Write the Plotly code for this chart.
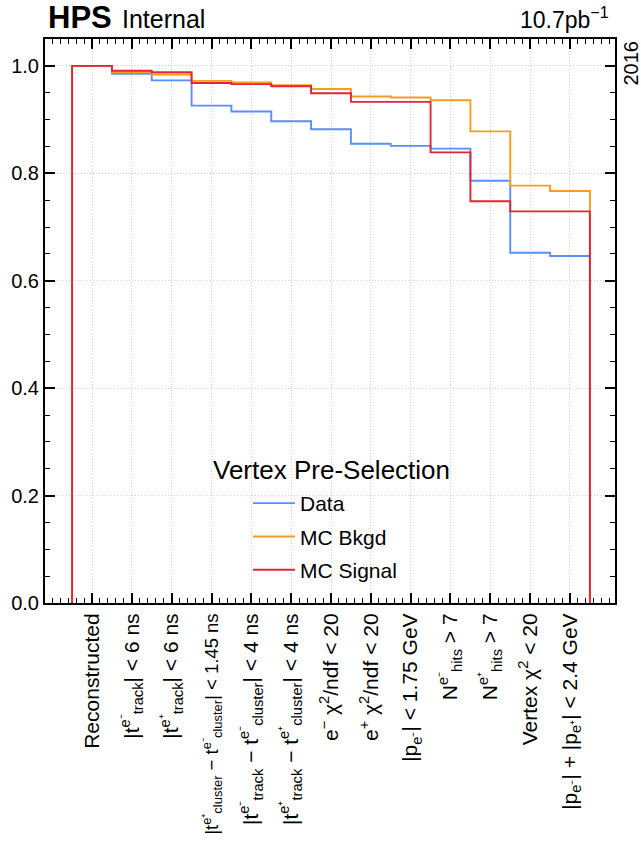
import plotly.graph_objects as go

# ---- data ----
categories = [
    "Reconstructed",
    "|t<sup>e⁻</sup><sub>track</sub>| &lt; 6 ns",
    "|t<sup>e⁺</sup><sub>track</sub>| &lt; 6 ns",
    "<span style='font-size:18.5px'>|t<sup>e⁺</sup><sub>cluster</sub> − t<sup>e⁻</sup><sub>cluster</sub>| &lt; 1.45 ns</span>",
    "|t<sup>e⁻</sup><sub>track</sub> − t<sup>e⁻</sup><sub>cluster</sub>| &lt; 4 ns",
    "|t<sup>e⁺</sup><sub>track</sub> − t<sup>e⁺</sup><sub>cluster</sub>| &lt; 4 ns",
    "e<sup>−</sup> χ<sup>2</sup>/ndf &lt; 20",
    "e<sup>+</sup> χ<sup>2</sup>/ndf &lt; 20",
    "|p<sub>e⁻</sub>| &lt; 1.75 GeV",
    "N<sup>e⁻</sup><sub>hits</sub> &gt; 7",
    "N<sup>e⁺</sup><sub>hits</sub> &gt; 7",
    "Vertex χ<sup>2</sup> &lt; 20",
    "|p<sub>e⁻</sub>| + |p<sub>e⁺</sub>| &lt; 2.4 GeV",
]
data_eff = [1.0, 0.985, 0.973, 0.926, 0.915, 0.897, 0.882, 0.855, 0.851, 0.846, 0.786, 0.652, 0.646]
bkgd_eff = [1.0, 0.988, 0.984, 0.972, 0.969, 0.964, 0.957, 0.943, 0.941, 0.936, 0.878, 0.777, 0.767]
signal_eff = [1.0, 0.991, 0.988, 0.968, 0.966, 0.962, 0.949, 0.933, 0.933, 0.839, 0.748, 0.729, 0.729]
series_names = ["Data", "MC Bkgd", "MC Signal"]
series_colors = ["#5790fc", "#f89c20", "#e42536"]
y_ticks = [0, 0.2, 0.4, 0.6, 0.8, 1.0]

FONT = "Liberation Sans, Arial, Helvetica, sans-serif"

n = len(categories)
centers = list(range(n))
edges = [i - 0.5 for i in range(n + 1)]


def step_xy(vals):
    x = [edges[0]] + edges[:-1] + [edges[-1]]
    y = [0] + list(vals) + [0]
    return x, y


fig = go.Figure()
for name, vals, col in zip(series_names, [data_eff, bkgd_eff, signal_eff], series_colors):
    x, y = step_xy(vals)
    fig.add_trace(go.Scatter(
        x=x, y=y, mode="lines", name=name, legendgroup=name,
        line=dict(color=col, width=1.9, shape="hv"),
    ))

axis_common = dict(
    showline=True, linecolor="black", linewidth=2, mirror="ticks",
    ticks="inside", tickcolor="black", tickwidth=1.5, ticklen=10,
    showgrid=True, gridcolor="#d4d4d4", griddash="1px,2px", gridwidth=1,
    zeroline=False, automargin=False,
)

fig.update_xaxes(
    **axis_common,
    range=[-1.18, 13.13],
    tickmode="array", tickvals=centers, ticktext=categories,
    tickangle=-90,
    tickfont=dict(family=FONT, size=21, color="black"),
    minor=dict(ticks="inside", ticklen=5, tickwidth=1.2, tickcolor="black",
               dtick=0.2, tick0=0, showgrid=False),
)
fig.update_yaxes(
    **axis_common,
    range=[0, 1.05],
    tickmode="array", tickvals=y_ticks,
    tickformat=".1f",
    tickfont=dict(family=FONT, size=20, color="black"),
    minor=dict(ticks="inside", ticklen=5, tickwidth=1.2, tickcolor="black",
               dtick=0.05, tick0=0, showgrid=False),
)

fig.update_layout(
    width=641, height=841,
    margin=dict(l=45, r=26, t=39, b=238),
    paper_bgcolor="white", plot_bgcolor="white",
    font=dict(family=FONT, color="black"),
    showlegend=True,
    legend=dict(
        x=(248 - 45) / 570, y=(603 - 483) / 564, xanchor="left", yanchor="top",
        bgcolor="rgba(0,0,0,0)", font=dict(family=FONT, size=21),
        traceorder="grouped", tracegroupgap=3, itemwidth=42,
    ),
    annotations=[
        dict(x=0, y=1, xref="paper", yref="paper", xanchor="left", yanchor="bottom",
             xshift=1, yshift=2, showarrow=False,
             text="<b>HPS</b>",
             font=dict(family=FONT, size=31, color="black")),
        dict(x=0, y=1, xref="paper", yref="paper", xanchor="left", yanchor="bottom",
             xshift=75, yshift=4, showarrow=False,
             text="Internal",
             font=dict(family=FONT, size=25, color="black")),
        dict(x=1, y=1, xref="paper", yref="paper", xanchor="right", yanchor="bottom",
             xshift=-4, yshift=4, showarrow=False,
             text="10.7pb<sup>−1</sup>",
             font=dict(family=FONT, size=23, color="black")),
        dict(x=1, y=1, xref="paper", yref="paper", xanchor="center", yanchor="top",
             xshift=15, yshift=0, showarrow=False, textangle=-90,
             text="2016",
             font=dict(family=FONT, size=20, color="black")),
        dict(x=(331 - 45) / 570, y=(603 - 470) / 564, xref="paper", yref="paper",
             xanchor="center", yanchor="middle", showarrow=False,
             text="Vertex Pre-Selection",
             font=dict(family=FONT, size=26, color="black")),
    ],
)

fig.write_html("out.html")
